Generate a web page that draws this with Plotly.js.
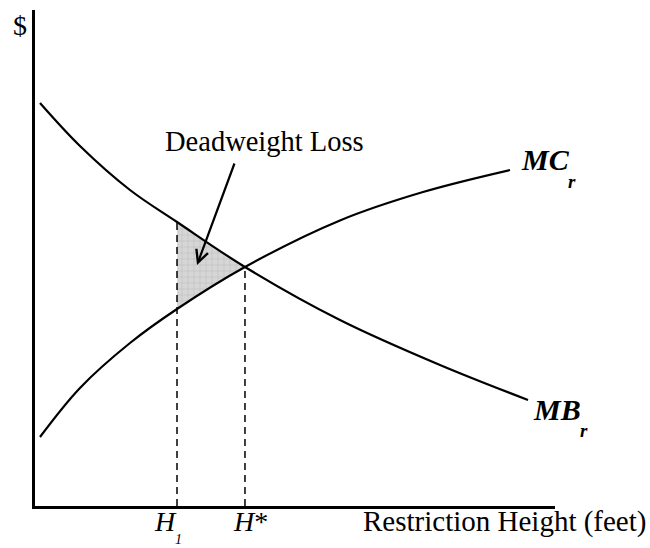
<!DOCTYPE html>
<html>
<head>
<meta charset="utf-8">
<script src="https://cdn.plot.ly/plotly-3.0.1.min.js"></script>
<style>html,body{margin:0;padding:0;background:#fff;}</style>
</head>
<body>
<div id="chart" style="width:650px;height:548px;"></div>
<script>
// Data (restriction height in arbitrary units, $ in arbitrary units)
const mbX = [0.96, 8.65, 18.27, 27.31, 40.38, 58.65, 77.88, 94.81];
const mbY = [81.25, 72.58, 63.71, 57.26, 48.19, 37.50, 28.43, 21.37];
const mcX = [0.96, 8.65, 18.27, 27.31, 40.38, 58.65, 74.62, 91.35];
const mcY = [13.91, 23.80, 32.86, 39.72, 48.19, 57.58, 63.31, 67.74];
const h1 = 27.31, hStar = 40.38;
const mbAtH1 = 57.26, mcAtH1 = 39.72, priceStar = 48.19;

const font = "Liberation Serif, Times New Roman, serif";

const traces = [
  { // deadweight loss triangle
    x: [h1, hStar, h1, h1], y: [mbAtH1, priceStar, mcAtH1, mbAtH1],
    mode: 'lines', fill: 'toself', line: {width: 0, color: 'rgba(0,0,0,0)'},
    fillcolor: '#d6d6d6',
    fillpattern: {shape: '+', fgcolor: '#b8b8b8', bgcolor: '#d6d6d6', size: 6, solidity: 0.15},
    hoverinfo: 'skip', showlegend: false
  },
  { x: [h1, h1], y: [0, mbAtH1], mode: 'lines',
    line: {color: '#000', width: 1.5, dash: '7px,5px'}, showlegend: false },
  { x: [hStar, hStar], y: [0, priceStar], mode: 'lines',
    line: {color: '#000', width: 1.5, dash: '7px,5px'}, showlegend: false },
  { x: mbX, y: mbY, mode: 'lines', line: {color: '#000', width: 2.2, shape: 'spline', smoothing: 1}, showlegend: false },
  { x: mcX, y: mcY, mode: 'lines', line: {color: '#000', width: 2.2, shape: 'spline', smoothing: 1}, showlegend: false }
];

// paper coordinate helpers based on plot area (px 35..555, 10..506)
const px = v => (v - 35) / 520;
const py = v => (506 - v) / 496;

const ann = (text, x, y, size, extra) => Object.assign({
  text: text, xref: 'paper', yref: 'paper', x: px(x), y: py(y),
  xanchor: 'center', yanchor: 'middle', showarrow: false,
  font: {family: font, size: size, color: '#000'}
}, extra || {});

const layout = {
  width: 650, height: 548,
  margin: {l: 35, r: 95, t: 10, b: 42},
  paper_bgcolor: '#fff', plot_bgcolor: '#fff',
  xaxis: {range: [0, 100], showline: true, linecolor: '#000', linewidth: 2.6,
          showgrid: false, zeroline: false, showticklabels: false, ticks: ''},
  yaxis: {range: [0, 100], showline: true, linecolor: '#000', linewidth: 2.6,
          showgrid: false, zeroline: false, showticklabels: false, ticks: ''},
  showlegend: false,
  annotations: [
    ann('$', 20, 25, 28),
    ann('Restriction Height (feet)', 504, 521, 29),
    ann('<i>H</i>', 165, 521, 28, {height: 24}),
    ann('<i>1</i>', 178, 539, 14, {height: 14}),
    ann('<i>H</i>*', 250, 521, 28),
    ann('<b><i>MC</i></b>', 545, 160, 30),
    ann('<b><i>r</i></b>', 572, 181, 19),
    ann('<b><i>MB</i></b>', 557, 409, 30),
    ann('<b><i>r</i></b>', 584, 430, 19),
    ann('Deadweight Loss', 264, 141, 28.5),
    { text: '', xref: 'paper', yref: 'paper', x: px(197), y: py(265),
      axref: 'pixel', ayref: 'pixel', ax: 38, ay: -103,
      showarrow: true, arrowhead: 5, arrowsize: 1.1, arrowwidth: 2.2, arrowcolor: '#000', standoff: 0 }
  ]
};

Plotly.newPlot('chart', traces, layout, {staticPlot: true, displayModeBar: false});
</script>
</body>
</html>
